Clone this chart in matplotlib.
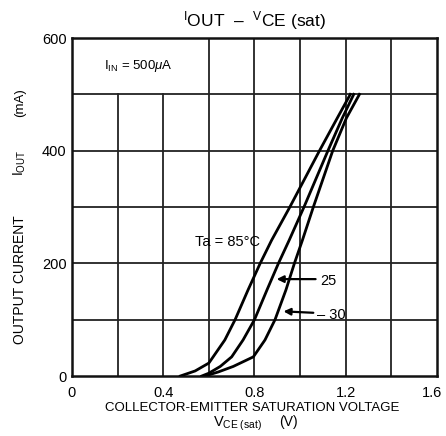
import matplotlib
matplotlib.use("Agg")
import matplotlib.pyplot as plt
import matplotlib.transforms as mtransforms

plt.rcParams['font.family'] = ['Liberation Sans', 'DejaVu Sans']
plt.rcParams['mathtext.fontset'] = 'custom'
plt.rcParams['mathtext.rm'] = 'Liberation Sans'
plt.rcParams['mathtext.it'] = 'Liberation Sans:italic'

# Data (V_CE(sat) in V, I_OUT in mA)
v_85 = [0.475, 0.54, 0.60, 0.67, 0.715, 0.772, 0.825, 0.875, 0.955, 1.085, 1.163, 1.22]
i_85 = [0, 9, 23, 64, 100, 153, 200, 241, 300, 400, 458, 500]
v_25 = [0.569, 0.60, 0.65, 0.70, 0.75, 0.80, 0.855, 0.905, 0.952, 1.017, 1.122, 1.185, 1.235]
i_25 = [0, 5, 17, 34, 64, 100, 153, 200, 241, 300, 400, 458, 500]
v_m30 = [0.583, 0.64, 0.707, 0.795, 0.846, 0.89, 0.938, 0.975, 1.01, 1.058, 1.143, 1.203, 1.26]
i_m30 = [0, 7, 17, 34, 64, 100, 153, 200, 241, 300, 400, 458, 500]

x_ticks = [0, 0.4, 0.8, 1.2, 1.6]
x_ticklabels = ["0", "0.4", "0.8", "1.2", "1.6"]
y_ticks = [0, 200, 400, 600]
y_ticklabels = ["0", "200", "400", "600"]
x_grid = [0.2, 0.4, 0.6, 0.8, 1.0, 1.2, 1.4]
y_grid = [100, 200, 300, 400, 500]

fig = plt.figure(figsize=(4.46, 4.36), dpi=100)
ax = fig.add_axes([0.1614, 0.1376, 0.8184, 0.7752])
ax.set_xlim(0, 1.6)
ax.set_ylim(0, 600)

gc = '#222222'
for xv in x_grid:
    top = 500 if xv < 0.5 else 600
    ax.plot([xv, xv], [0, top], color=gc, lw=1.3, zorder=1)
for yv in y_grid:
    ax.plot([0, 1.6], [yv, yv], color=gc, lw=1.3, zorder=1)

for v, i in [(v_85, i_85), (v_25, i_25), (v_m30, i_m30)]:
    ax.plot(v, i, color='black', lw=2.0, zorder=3, solid_joinstyle='round')

for s in ax.spines.values():
    s.set_linewidth(1.8)
    s.set_color('#111111')

ax.set_xticks(x_ticks)
ax.set_xticklabels(x_ticklabels)
ax.set_yticks(y_ticks)
ax.set_yticklabels(y_ticklabels)
ax.tick_params(axis='x', length=0, pad=7, labelsize=10.5)
ax.tick_params(axis='y', length=0, pad=4, labelsize=10.5)
last = ax.get_xticklabels()[-1]
last.set_transform(last.get_transform() + mtransforms.ScaledTranslation(-5/100, 0, fig.dpi_scale_trans))

ax.text(0.14, 550, r"I$_{\rm IN}$ = 500$\mu$A", fontsize=9.5, va='center', ha='left')
ax.text(0.68, 238, "Ta = 85°C", fontsize=10.5, va='center', ha='center')

ax.annotate("", xy=(0.885, 172), xytext=(1.08, 172),
            arrowprops=dict(arrowstyle='-|>', color='black', lw=1.6, mutation_scale=10))
ax.text(1.09, 168, "25", fontsize=10.5, va='center', ha='left')
ax.annotate("", xy=(0.915, 115), xytext=(1.07, 112),
            arrowprops=dict(arrowstyle='-|>', color='black', lw=1.6, mutation_scale=10))
ax.text(1.075, 108, "– 30", fontsize=10.5, va='center', ha='left')

fig.text(0.57, 0.952, r"$^{\rm I}$OUT  –  $^{\rm V}$CE (sat)", fontsize=12.5, ha='center', va='center')

fig.text(0.565, 0.064, "COLLECTOR-EMITTER SATURATION VOLTAGE", fontsize=9.5, ha='center', va='center')
fig.text(0.532, 0.021, r"V$_{\rm CE\ (sat)}$", fontsize=10.5, ha='center', va='baseline')
fig.text(0.646, 0.024, "(V)", fontsize=10, ha='center', va='baseline')

fig.text(0.045, 0.358, "OUTPUT CURRENT", fontsize=10, rotation=90, ha='center', va='center')
fig.text(0.045, 0.626, r"I$_{\rm OUT}$", fontsize=10, rotation=90, ha='center', va='center')
fig.text(0.045, 0.764, "(mA)", fontsize=9.5, rotation=90, ha='center', va='center')

fig.savefig("out.png", dpi=100, facecolor='white')
